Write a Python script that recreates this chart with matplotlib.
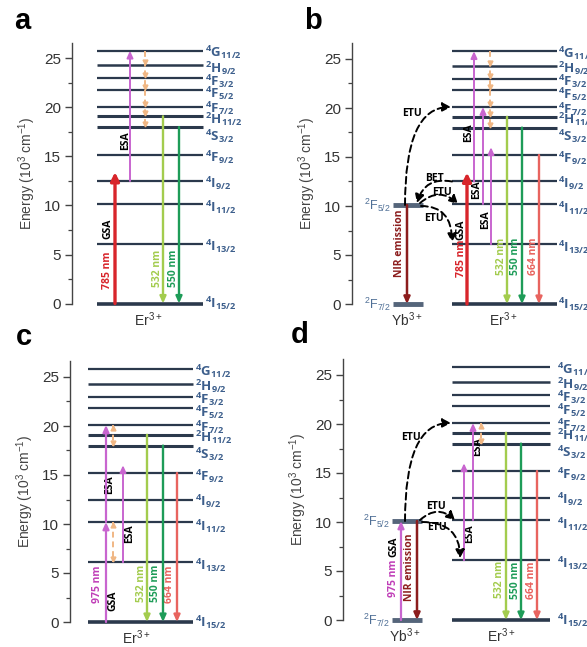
import matplotlib
matplotlib.use("Agg")
import matplotlib.pyplot as plt
from matplotlib.patches import FancyArrowPatch

plt.rcParams['font.family'] = ['Liberation Sans', 'DejaVu Sans']
plt.rcParams['mathtext.fontset'] = 'custom'
plt.rcParams['mathtext.rm'] = 'Liberation Sans'
plt.rcParams['mathtext.it'] = 'Liberation Sans:italic'
plt.rcParams['mathtext.bf'] = 'Open Sans:bold'

# ---------------- data ----------------
er_levels = [0.0, 6.1, 10.2, 12.5, 15.2, 18.0, 19.1, 20.1, 21.8, 23.0, 24.3, 25.8]
er_names = ["4I15/2", "4I13/2", "4I11/2", "4I9/2", "4F9/2", "4S3/2",
            "2H11/2", "4F7/2", "4F5/2", "4F3/2", "2H9/2", "4G11/2"]
er_label_y = [0.0, 5.8, 9.8, 12.3, 14.9, 17.1, 18.8, 19.9, 21.4, 22.7, 24.0, 25.6]
er_widths = [2.6, 1.6, 1.6, 1.6, 1.6, 2.2, 2.2, 1.6, 1.6, 1.6, 1.8, 1.6]
yb_levels = [0.0, 10.1]
yb_names = ["2F7/2", "2F5/2"]
yticks_major = [0, 5, 10, 15, 20, 25]
emission_nm = ["532 nm", "550 nm", "664 nm"]
emission_from = [19.1, 18.0, 15.2]

W, H = 587, 647
fig = plt.figure(figsize=(W / 100, H / 100), dpi=100)

C_LEVEL = "#2b394c"
C_LAB = "#3d5f8c"
C_YB = "#55657a"
C_RED = "#d8252b"
C_MAG = "#c865cf"
C_MAGT = "#c03fb8"
C_ORA = "#f0b784"
C_LG = "#a3cc4e"
C_GR = "#1e9c58"
C_SAL = "#e8645f"
C_NIR = "#8c1d1d"
EM_COLORS = [C_LG, C_GR, C_SAL]

YTOP = 26.6
PXU = 9.8


def lab(name):
    return r"$\mathbf{{}^{%s}%s_{%s}}$" % (name[0], name[1], name[2:])


def make_axes(spine_px, right_px, zero_px, letter, letter_xy):
    ax = fig.add_axes([spine_px / W, 1 - zero_px / H,
                       (right_px - spine_px) / W, YTOP * PXU / H])
    ax.set_xlim(spine_px, right_px)
    ax.set_ylim(0, YTOP)
    for s in ["top", "right", "bottom"]:
        ax.spines[s].set_visible(False)
    ax.spines["left"].set_color("#444444")
    ax.spines["left"].set_linewidth(1.0)
    ax.set_xticks([])
    ax.set_yticks(yticks_major)
    ax.set_yticks([t + 2.5 for t in yticks_major[:-1]], minor=True)
    ax.tick_params(axis="y", which="major", length=5, width=1.0, pad=3,
                   labelsize=11, colors="#444444", labelcolor="#333333")
    ax.tick_params(axis="y", which="minor", length=3, width=0.9, colors="#444444")
    ax.set_ylabel(r"Energy (10$^3$ cm$^{-1}$)", fontsize=10, color="#444444",
                  labelpad=4)
    fig.text(letter_xy[0] / W, 1 - letter_xy[1] / H, letter, fontsize=21,
             fontweight="bold", ha="center", va="center")
    return ax


def er_levels_draw(ax, x0, x1, lx):
    for lv, nm, ly, lw in zip(er_levels, er_names, er_label_y, er_widths):
        ax.plot([x0, x1], [lv, lv], color=C_LEVEL, lw=lw, solid_capstyle="butt",
                clip_on=False, zorder=2)
        ax.text(lx, ly, lab(nm), color=C_LAB, fontsize=9.5, ha="left",
                va="center", clip_on=False)


def yb_levels_draw(ax, x0, x1, lx):
    for lv, nm in zip(yb_levels, yb_names):
        ax.plot([x0, x1], [lv, lv], color=C_YB, lw=3.5, solid_capstyle="butt",
                clip_on=False, zorder=2)
        ax.text(lx, lv, lab(nm).replace(r"\mathbf", r"\mathrm"), color="#4f6f96",
                fontsize=9, ha="right", va="center", clip_on=False)


def arrow(ax, x, y0, y1, color, lw=1.6, hl=0.4, hw=0.18):
    ax.annotate("", xy=(x, y1), xytext=(x, y0), annotation_clip=False,
                arrowprops=dict(arrowstyle="-|>,head_length=%g,head_width=%g" % (hl, hw),
                                color=color, lw=lw, shrinkA=0, shrinkB=0),
                zorder=4)


def cascade(ax, x, levels_down):
    ax.plot([x, x], [levels_down[0], levels_down[-1]], color=C_ORA, lw=1.4,
            ls=(0, (3, 2)), zorder=3)
    ax.plot([x] * (len(levels_down) - 1), [v + 0.3 for v in levels_down[1:]],
            ls="none", marker="v", ms=3.5, color=C_ORA, zorder=3)
    if len(levels_down) == 2:
        ax.plot([x], [levels_down[0] - 0.3], ls="none", marker="^", ms=3.5,
                color=C_ORA, zorder=3)


def vtext(ax, x, y, s, color="black", size=7.5):
    ax.text(x, y, s, rotation=90, ha="center", va="center", color=color,
            fontsize=size, fontweight="bold", family=["Open Sans", "DejaVu Sans"])


def curve(ax, p0, p1, conn):
    a = FancyArrowPatch(p0, p1, connectionstyle=conn,
                        arrowstyle="-|>,head_length=5,head_width=2.6",
                        color="black", lw=1.4, ls=(0, (3.5, 2)),
                        shrinkA=0, shrinkB=0, zorder=5, clip_on=False)
    ax.add_patch(a)


def ion_labels(ax, yb_x, er_x):
    if yb_x is not None:
        ax.text(yb_x, -1.65, r"Yb$^{3+}$", ha="center", va="center", fontsize=10,
                color="#333333", clip_on=False)
    ax.text(er_x, -1.65, r"Er$^{3+}$", ha="center", va="center", fontsize=10,
            color="#333333", clip_on=False)


def emissions(ax, xs, lxs, ly, which):
    for i in which:
        arrow(ax, xs[i], emission_from[i], 0, EM_COLORS[i], lw=1.7)
        vtext(ax, lxs[i], ly, emission_nm[i], EM_COLORS[i])


cascade_top = [er_levels[i] for i in (11, 10, 9, 8, 7, 6, 5)]

# ---------------- panel a ----------------
ax = make_axes(72, 290, 303.5, "a", (22, 21))
er_levels_draw(ax, 97, 203, 205)
arrow(ax, 115, 0, 13.4, C_RED, lw=2.4, hl=0.5, hw=0.25)
vtext(ax, 108, 3.4, "785 nm", C_RED)
vtext(ax, 108, 7.6, "GSA")
arrow(ax, 130, er_levels[3], er_levels[11], C_MAG, lw=1.4)
vtext(ax, 126, 16.6, "ESA")
cascade(ax, 145, cascade_top)
emissions(ax, [163, 179, None], [157, 173, None], 3.6, [0, 1])
ion_labels(ax, None, 148)

# ---------------- panel b ----------------
ax = make_axes(352, 587, 304, "b", (313, 21))
er_levels_draw(ax, 452, 557, 558)
yb_levels_draw(ax, 393, 423, 391)
arrow(ax, 407, yb_levels[1], 0, C_NIR, lw=1.8)
vtext(ax, 399, 6.2, "NIR emission", C_NIR)
arrow(ax, 467, 0, 13.4, C_RED, lw=2.4, hl=0.5, hw=0.25)
vtext(ax, 461, 4.7, "785 nm", C_RED)
vtext(ax, 461, 7.6, "GSA")
arrow(ax, 474, er_levels[3], er_levels[11], C_MAG, lw=1.4)
arrow(ax, 483, er_levels[2], er_levels[7], C_MAG, lw=1.4)
arrow(ax, 491, er_levels[1], 16.0, C_MAG, lw=1.4)
vtext(ax, 469, 17.5, "ESA")
vtext(ax, 477, 11.7, "ESA")
vtext(ax, 486, 8.6, "ESA")
cascade(ax, 490, cascade_top)
emissions(ax, [507, 522, 539], [501, 516, 533], 4.9, [0, 1, 2])
curve(ax, (405, yb_levels[1]), (451, er_levels[7]), "angle3,angleA=90,angleB=0")
curve(ax, (452, er_levels[3]), (417, yb_levels[1] + 0.2), "arc3,rad=0.45")
curve(ax, (420, yb_levels[1] + 0.2), (458, er_levels[2]), "arc3,rad=-0.45")
curve(ax, (421, yb_levels[1] - 0.1), (452, 6.3), "angle3,angleA=0,angleB=90")
for x, y, s in [(412, 19.4, "ETU"), (435, 12.8, "BET"), (442, 11.4, "ETU"),
                (434, 8.7, "ETU")]:
    ax.text(x, y, s, ha="center", va="center", fontsize=7.5, fontweight="bold",
            family=["Open Sans", "DejaVu Sans"])
ion_labels(ax, 407, 503)

# ---------------- panel c ----------------
ax = make_axes(70, 290, 622, "c", (24, 337))
er_levels_draw(ax, 88, 193, 195)
arrow(ax, 106, 0, er_levels[2], C_MAG, lw=1.6)
arrow(ax, 106, er_levels[2], er_levels[7], C_MAG, lw=1.6)
vtext(ax, 98, 3.9, "975 nm", C_MAGT)
vtext(ax, 113, 2.2, "GSA")
vtext(ax, 110, 14.0, "ESA")
cascade(ax, 113, [er_levels[2], er_levels[1]])
cascade(ax, 113, [er_levels[7], er_levels[5]])
arrow(ax, 123, er_levels[1], 16.0, C_MAG, lw=1.4)
vtext(ax, 130, 9.0, "ESA")
emissions(ax, [147, 163, 177], [141, 156, 170], 3.9, [0, 1, 2])
ion_labels(ax, None, 136)

# ---------------- panel d ----------------
ax = make_axes(343, 587, 620, "d", (300, 335))
er_levels_draw(ax, 452, 550, 557)
yb_levels_draw(ax, 392, 422, 390)
arrow(ax, 401, 0, yb_levels[1], C_MAG, lw=1.6)
vtext(ax, 394, 4.3, "975 nm", C_MAGT)
vtext(ax, 394, 7.5, "GSA")
arrow(ax, 417, yb_levels[1], 0, C_NIR, lw=1.8)
vtext(ax, 410, 5.4, "NIR emission", C_NIR)
arrow(ax, 464, er_levels[1], 16.0, C_MAG, lw=1.4)
arrow(ax, 473, er_levels[2], er_levels[7], C_MAG, lw=1.4)
vtext(ax, 470, 8.8, "ESA")
vtext(ax, 478, 17.7, "ESA")
cascade(ax, 481, [er_levels[7], er_levels[5]])
emissions(ax, [506, 521, 537], [500, 515, 531], 4.1, [0, 1, 2])
curve(ax, (405, yb_levels[1]), (451, er_levels[7]), "angle3,angleA=90,angleB=0")
curve(ax, (420, yb_levels[1] + 0.1), (455, er_levels[2]), "arc3,rad=-0.45")
curve(ax, (422, yb_levels[1] - 0.1), (460, 6.3), "angle3,angleA=0,angleB=90")
for x, y, s in [(411, 18.6, "ETU"), (436, 11.6, "ETU"), (437, 9.4, "ETU")]:
    ax.text(x, y, s, ha="center", va="center", fontsize=7.5, fontweight="bold",
            family=["Open Sans", "DejaVu Sans"])
ion_labels(ax, 405, 501)

fig.savefig("out.png", dpi=100)
